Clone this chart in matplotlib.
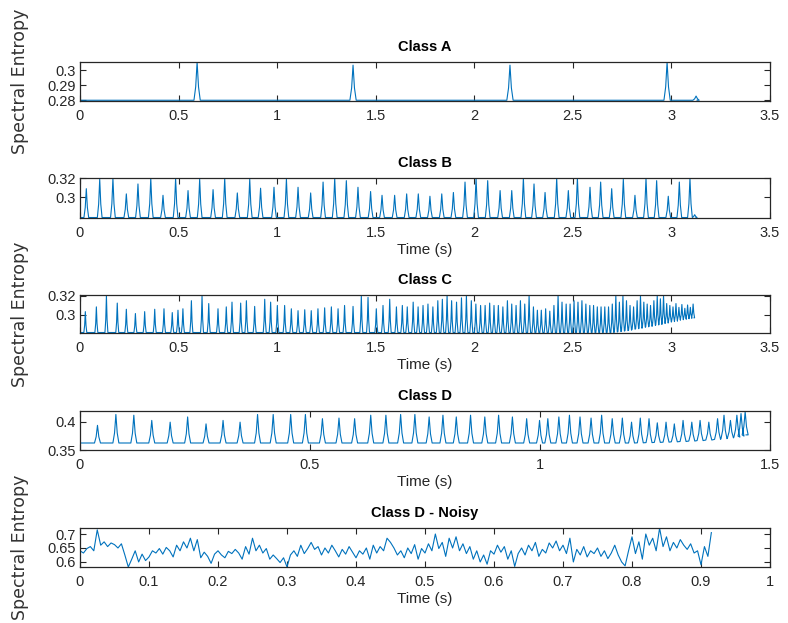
import numpy as np
import matplotlib
matplotlib.use("Agg")
import matplotlib.pyplot as plt
from matplotlib import font_manager as fm

# ---------------- data ----------------
# Class A: baseline + four spikes
a_peak_t = [0.594, 1.385, 2.181, 2.978, 3.125]
a_peak_v = [0.3055, 0.3035, 0.3035, 0.3055, 0.2828]
a_base = 0.2800
a_end = 3.13

# Class B
b_peak_t = [0.032, 0.100, 0.167, 0.235, 0.294, 0.359, 0.421, 0.485, 0.548, 0.607,
            0.675, 0.734, 0.798, 0.861, 0.916, 0.984, 1.047, 1.106, 1.170, 1.233,
            1.292, 1.351, 1.410, 1.474, 1.532, 1.596, 1.657, 1.716, 1.775, 1.835,
            1.894, 1.953, 2.009, 2.068, 2.131, 2.190, 2.249, 2.303, 2.359, 2.418,
            2.477, 2.523, 2.587, 2.641, 2.697, 2.756, 2.815, 2.871, 2.925, 2.984,
            3.040, 3.094, 3.118]
b_peak_v = [0.309, 0.319, 0.320, 0.3035, 0.314, 0.320, 0.302, 0.320, 0.307, 0.319,
            0.308, 0.320, 0.3045, 0.319, 0.3095, 0.3105, 0.319, 0.3105, 0.3045, 0.316,
            0.320, 0.3175, 0.3105, 0.306, 0.302, 0.302, 0.3035, 0.3035, 0.301, 0.3035,
            0.305, 0.316, 0.320, 0.3175, 0.307, 0.307, 0.320, 0.314, 0.305, 0.320,
            0.307, 0.320, 0.3105, 0.316, 0.309, 0.319, 0.302, 0.320, 0.3175, 0.301,
            0.316, 0.320, 0.2815]
b_base = 0.2785
b_end = 3.125

# Class C
c_peak_t = [0.027, 0.083, 0.134, 0.189, 0.235, 0.281, 0.328, 0.379, 0.426, 0.468,
            0.497, 0.522, 0.565, 0.619, 0.653, 0.700, 0.742, 0.771, 0.815, 0.844,
            0.886, 0.937, 0.967, 1.001, 1.038, 1.072, 1.106, 1.140, 1.173, 1.207,
            1.241, 1.275, 1.309, 1.342, 1.385, 1.427, 1.461, 1.503, 1.537, 1.571,
            1.605, 1.635, 1.660, 1.690, 1.715, 1.740, 1.765, 1.790, 1.815, 1.838,
            1.862, 1.885, 1.910, 1.935, 1.960, 1.985, 2.008, 2.032, 2.055, 2.078,
            2.100, 2.122, 2.145, 2.168, 2.190, 2.212, 2.234, 2.256, 2.278, 2.300,
            2.320, 2.340, 2.362, 2.383, 2.404, 2.425, 2.445, 2.466, 2.486, 2.506,
            2.526, 2.546, 2.566, 2.586, 2.605, 2.624, 2.643, 2.662, 2.681, 2.700,
            2.718, 2.736, 2.754, 2.772, 2.790, 2.808, 2.826, 2.843, 2.860, 2.877,
            2.894, 2.911, 2.928, 2.944, 2.960, 2.976, 2.992, 3.008, 3.023, 3.038,
            3.053, 3.068, 3.082, 3.096, 3.110]
c_peak_v = [0.3035, 0.3085, 0.3200, 0.3125, 0.3060, 0.3015, 0.3035, 0.3060, 0.3065, 0.3025,
            0.3050, 0.3065, 0.3150, 0.3200, 0.3120, 0.3065, 0.3085, 0.3135, 0.3125, 0.3150,
            0.3090, 0.3165, 0.3135, 0.3100, 0.3100, 0.3065, 0.3045, 0.3055, 0.3045, 0.3065,
            0.3075, 0.3085, 0.3065, 0.3100, 0.3090, 0.3200, 0.3185, 0.3065, 0.3100, 0.3165,
            0.3085, 0.3100, 0.3085, 0.3135, 0.3085, 0.3100, 0.3115, 0.3085, 0.3150, 0.3165,
            0.3200, 0.3150, 0.3135, 0.3180, 0.3200, 0.3150, 0.3115, 0.3100, 0.3100, 0.3125,
            0.3100, 0.3100, 0.3085, 0.3150, 0.3115, 0.3100, 0.3150, 0.3115, 0.3200, 0.3085,
            0.3050, 0.3050, 0.3065, 0.3040, 0.3100, 0.3200, 0.3135, 0.3115, 0.3115, 0.3150,
            0.3135, 0.3150, 0.3115, 0.3100, 0.3100, 0.3085, 0.3085, 0.3085, 0.3085, 0.3115,
            0.3200, 0.3135, 0.3200, 0.3150, 0.3100, 0.3085, 0.3150, 0.3200, 0.3135, 0.3115,
            0.3100, 0.3150, 0.3200, 0.3170, 0.3200, 0.3120, 0.3100, 0.3085, 0.3120, 0.3080,
            0.3110, 0.3070, 0.3105, 0.3080, 0.3115]
c_trough = [0.2815] * 90 + [0.2820, 0.2825, 0.2830, 0.2835, 0.2840, 0.2850, 0.2855, 0.2860,
                            0.2870, 0.2875, 0.2880, 0.2890, 0.2895, 0.2900, 0.2910, 0.2915,
                            0.2925, 0.2930, 0.2935, 0.2945, 0.2950, 0.2955, 0.2960, 0.2965,
                            0.2970]
c_end = 3.115

# Class D
d_peak_t = [0.038, 0.078, 0.117, 0.156, 0.196, 0.234, 0.274, 0.311, 0.348, 0.386,
            0.420, 0.458, 0.490, 0.527, 0.563, 0.597, 0.632, 0.665, 0.697, 0.728,
            0.759, 0.789, 0.818, 0.849, 0.880, 0.910, 0.940, 0.971, 0.999, 1.017,
            1.041, 1.064, 1.087, 1.111, 1.134, 1.157, 1.179, 1.199, 1.218, 1.237,
            1.255, 1.274, 1.292, 1.311, 1.330, 1.348, 1.367, 1.386, 1.400, 1.414,
            1.428, 1.437, 1.446]
d_peak_v = [0.3940, 0.4134, 0.4121, 0.4028, 0.3997, 0.4090, 0.3966, 0.4028, 0.3997, 0.4134,
            0.4134, 0.4134, 0.4134, 0.4059, 0.4070, 0.4059, 0.4121, 0.4121, 0.4134, 0.4134,
            0.4090, 0.4121, 0.4090, 0.4121, 0.4090, 0.4121, 0.4090, 0.4059, 0.4028, 0.4059,
            0.4090, 0.4121, 0.4090, 0.4070, 0.4121, 0.4059, 0.4070, 0.3997, 0.4070, 0.4059,
            0.3985, 0.3997, 0.3966, 0.4028, 0.3997, 0.4028, 0.3997, 0.4059, 0.4121, 0.4028,
            0.4121, 0.4150, 0.4184]
d_trough = [0.3625] * 38 + [0.3628, 0.3632, 0.3636, 0.3640, 0.3646, 0.3652, 0.3660, 0.3668,
                            0.3678, 0.3690, 0.3702, 0.3716, 0.3730, 0.3748, 0.3770]
d_end = 1.448

# Class D - Noisy (one value every 5 ms from t = 0)
e_dt = 0.005
e_vals = [0.640, 0.632, 0.648, 0.655, 0.640, 0.715, 0.660, 0.672, 0.655, 0.668,
          0.662, 0.650, 0.665, 0.625, 0.582, 0.610, 0.640, 0.600, 0.628, 0.605,
          0.618, 0.640, 0.632, 0.648, 0.628, 0.652, 0.640, 0.618, 0.660, 0.640,
          0.672, 0.650, 0.685, 0.640, 0.680, 0.615, 0.635, 0.620, 0.595, 0.628,
          0.640, 0.625, 0.615, 0.638, 0.630, 0.645, 0.632, 0.610, 0.655, 0.628,
          0.685, 0.640, 0.660, 0.632, 0.648, 0.610, 0.625, 0.612, 0.598, 0.615,
          0.582, 0.625, 0.640, 0.620, 0.660, 0.630, 0.648, 0.670, 0.645, 0.655,
          0.625, 0.650, 0.632, 0.660, 0.640, 0.618, 0.645, 0.628, 0.655, 0.635,
          0.615, 0.640, 0.628, 0.650, 0.610, 0.660, 0.632, 0.655, 0.640, 0.685,
          0.670, 0.650, 0.625, 0.640, 0.615, 0.650, 0.630, 0.662, 0.610, 0.648,
          0.632, 0.665, 0.640, 0.700, 0.648, 0.670, 0.620, 0.685, 0.650, 0.690,
          0.640, 0.665, 0.630, 0.655, 0.610, 0.640, 0.600, 0.625, 0.592, 0.640,
          0.628, 0.660, 0.635, 0.655, 0.610, 0.640, 0.584, 0.630, 0.650, 0.625,
          0.660, 0.640, 0.670, 0.620, 0.645, 0.632, 0.668, 0.650, 0.675, 0.640,
          0.660, 0.630, 0.685, 0.600, 0.645, 0.625, 0.655, 0.618, 0.640, 0.630,
          0.650, 0.620, 0.640, 0.612, 0.632, 0.660, 0.625, 0.600, 0.586, 0.640,
          0.690, 0.630, 0.672, 0.610, 0.700, 0.660, 0.685, 0.640, 0.721, 0.655,
          0.690, 0.640, 0.670, 0.650, 0.680, 0.660, 0.645, 0.665, 0.632, 0.640,
          0.590, 0.655, 0.620, 0.705]

titles = ["Class A", "Class B", "Class C", "Class D", "Class D - Noisy"]
x_limits = [(0, 3.5), (0, 3.5), (0, 3.5), (0, 1.5), (0, 1)]
x_ticks = [[0, 0.5, 1, 1.5, 2, 2.5, 3, 3.5]] * 3 + [[0, 0.5, 1, 1.5],
           [0, 0.1, 0.2, 0.3, 0.4, 0.5, 0.6, 0.7, 0.8, 0.9, 1]]
x_ticklabels = [["0", "0.5", "1", "1.5", "2", "2.5", "3", "3.5"]] * 3 + [
    ["0", "0.5", "1", "1.5"],
    ["0", "0.1", "0.2", "0.3", "0.4", "0.5", "0.6", "0.7", "0.8", "0.9", "1"]]
y_limits = [(0.2795, 0.3056), (0.2780, 0.3203), (0.2810, 0.3210), (0.3500, 0.4196), (0.582, 0.7215)]
y_ticks = [[0.28, 0.29, 0.30], [0.30, 0.32], [0.30, 0.32], [0.35, 0.40], [0.60, 0.65, 0.70]]
y_ticklabels = [["0.28", "0.29", "0.3"], ["0.3", "0.32"], ["0.3", "0.32"], ["0.35", "0.4"],
                ["0.6", "0.65", "0.7"]]
show_ylabel = [True, False, True, False, True]
show_xlabel = [False, True, True, True, True]
peak_halfwidth = [0.016, 0.012, 0.0075, 0.0065]


def spiky(times, peaks, troughs, w, t_end):
    xs, ys = [0.0], [troughs[0]]
    for t, p, b in zip(times, peaks, troughs):
        s = b + 0.35 * (p - b)
        xs += [t - w, t - 0.45 * w, t, t + 0.45 * w, t + w]
        ys += [b, s, p, s, b]
    xs.append(t_end)
    ys.append(troughs[-1])
    return np.array(xs), np.array(ys)


series = [
    spiky(a_peak_t, a_peak_v, [a_base] * len(a_peak_t), peak_halfwidth[0], a_end),
    spiky(b_peak_t, b_peak_v, [b_base] * len(b_peak_t), peak_halfwidth[1], b_end),
    spiky(c_peak_t, c_peak_v, c_trough, peak_halfwidth[2], c_end),
    spiky(d_peak_t, d_peak_v, d_trough, peak_halfwidth[3], d_end),
    (np.arange(len(e_vals)) * e_dt, np.array(e_vals)),
]

# ---------------- styling ----------------
names = {f.name for f in fm.fontManager.ttflist}
narrow = "Liberation Sans Narrow" if "Liberation Sans Narrow" in names else "Liberation Sans"
ink = "#262626"
line_color = "#0072BD"

fig = plt.figure(figsize=(7.88, 6.23), dpi=100)
W, H = 788.0, 623.0
boxes = [(62, 101), (178, 218), (295, 333), (411, 450), (528, 567)]
left, right = 80, 770

for i, (top, bot) in enumerate(boxes):
    ax = fig.add_axes([left / W, 1 - bot / H, (right - left) / W, (bot - top) / H])
    x, y = series[i]
    ax.plot(x, y, color=line_color, lw=0.8)
    ax.set_xlim(*x_limits[i])
    ax.set_ylim(*y_limits[i])
    ax.set_xticks(x_ticks[i])
    ax.set_xticklabels(x_ticklabels[i], fontfamily=narrow, fontsize=10.5, color=ink)
    ax.set_yticks(y_ticks[i])
    ax.set_yticklabels(y_ticklabels[i], fontfamily=narrow, fontsize=10.5, color=ink)
    ax.tick_params(direction="in", top=True, right=True, length=4, width=0.8,
                   colors=ink)
    ax.tick_params(axis="x", pad=6)
    ax.tick_params(axis="y", pad=3)
    for sp in ax.spines.values():
        sp.set_color(ink)
        sp.set_linewidth(0.9)
    ax.set_title(titles[i], fontfamily=narrow, fontsize=10.5, fontweight="bold",
                 color="black", pad=8)
    if show_xlabel[i]:
        ax.set_xlabel("Time (s)", fontfamily=narrow, fontsize=11, color=ink, labelpad=2)
    if show_ylabel[i]:
        ax.set_ylabel("Spectral Entropy", fontfamily="DejaVu Sans", fontsize=12.5,
                      color="#333333")
        ax.yaxis.set_label_coords(-(left - 29) / (right - left), 0.5)

fig.savefig("out.png", dpi=100, facecolor="white")
